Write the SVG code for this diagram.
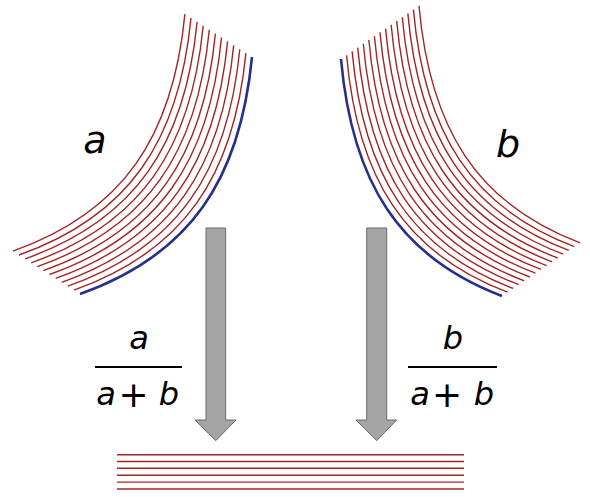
<svg xmlns="http://www.w3.org/2000/svg" xmlns:xlink="http://www.w3.org/1999/xlink" width="590" height="497" viewBox="0 0 590 497">
<style>
.red{fill:none;stroke:#a32424;stroke-width:1.4}
.blue{fill:none;stroke:#26308a;stroke-width:2.6}
.arrow{fill:#a5a5a5;stroke:#6a6a6a;stroke-width:1}
.m{font-family:"DejaVu Sans","Liberation Sans",sans-serif;font-style:italic;fill:#000;text-anchor:middle}
.p{font-family:"DejaVu Sans",sans-serif;fill:#000;text-anchor:middle}
.bar{stroke:#000;stroke-width:2}
</style>
<defs>
<path id="cA" d="M252,57 C240,180 190,255 80,294"/>
<path id="cB" d="M341,59 C352,182 399,257 502,296"/>
</defs>
<rect width="590" height="497" fill="#fff"/>
<g id="fanA">
<use xlink:href="#cA" class="red" transform="translate(-6.1,-3.9)"/>
<use xlink:href="#cA" class="red" transform="translate(-12.2,-7.8)"/>
<use xlink:href="#cA" class="red" transform="translate(-18.3,-11.7)"/>
<use xlink:href="#cA" class="red" transform="translate(-24.4,-15.6)"/>
<use xlink:href="#cA" class="red" transform="translate(-30.5,-19.5)"/>
<use xlink:href="#cA" class="red" transform="translate(-36.6,-23.4)"/>
<use xlink:href="#cA" class="red" transform="translate(-42.7,-27.3)"/>
<use xlink:href="#cA" class="red" transform="translate(-48.8,-31.2)"/>
<use xlink:href="#cA" class="red" transform="translate(-54.9,-35.1)"/>
<use xlink:href="#cA" class="red" transform="translate(-61,-39)"/>
<use xlink:href="#cA" class="red" transform="translate(-67.1,-42.9)"/>
<use xlink:href="#cA" class="blue"/>
</g>
<g id="fanB">
<use xlink:href="#cB" class="red" transform="translate(5.57,-3.8)"/>
<use xlink:href="#cB" class="red" transform="translate(11.14,-7.6)"/>
<use xlink:href="#cB" class="red" transform="translate(16.71,-11.4)"/>
<use xlink:href="#cB" class="red" transform="translate(22.28,-15.2)"/>
<use xlink:href="#cB" class="red" transform="translate(27.85,-19)"/>
<use xlink:href="#cB" class="red" transform="translate(33.42,-22.8)"/>
<use xlink:href="#cB" class="red" transform="translate(38.99,-26.6)"/>
<use xlink:href="#cB" class="red" transform="translate(44.56,-30.4)"/>
<use xlink:href="#cB" class="red" transform="translate(50.13,-34.2)"/>
<use xlink:href="#cB" class="red" transform="translate(55.7,-38)"/>
<use xlink:href="#cB" class="red" transform="translate(61.27,-41.8)"/>
<use xlink:href="#cB" class="red" transform="translate(66.84,-45.6)"/>
<use xlink:href="#cB" class="red" transform="translate(72.41,-49.4)"/>
<use xlink:href="#cB" class="red" transform="translate(77.98,-53.2)"/>
<use xlink:href="#cB" class="blue"/>
</g>
<g id="labelA"><text class="m" x="95" y="153" font-size="38">a</text></g>
<g id="labelB"><text class="m" x="508" y="157" font-size="38">b</text></g>
<g id="connectors">
<path id="arrowA" class="arrow" d="M206,228 H225.7 V420 H236 L215.8,440.7 L195,420 H206 Z"/>
<path id="arrowB" class="arrow" d="M366.7,228 H386.7 V420 H396.7 L376.7,440.7 L356,420 H366.7 Z"/>
</g>
<g id="fracA">
<text class="m" x="139" y="349" font-size="32">a</text>
<line class="bar" x1="95" y1="367" x2="182" y2="367"/>
<text class="m" x="106" y="405" font-size="32">a</text>
<text class="p" x="133.5" y="407" font-size="36">+</text>
<text class="m" x="169" y="405" font-size="32">b</text>
</g>
<g id="fracB">
<text class="m" x="453" y="349" font-size="32">b</text>
<line class="bar" x1="408" y1="367" x2="497" y2="367"/>
<text class="m" x="420" y="405" font-size="32">a</text>
<text class="p" x="447" y="407" font-size="36">+</text>
<text class="m" x="484" y="405" font-size="32">b</text>
</g>
<g id="result">
<line class="red" x1="117" y1="454.7" x2="464" y2="454.7"/>
<line class="red" x1="117" y1="461.5" x2="464" y2="461.5"/>
<line class="red" x1="117" y1="468.3" x2="464" y2="468.3"/>
<line class="red" x1="117" y1="475.2" x2="464" y2="475.2"/>
<line class="red" x1="117" y1="482.1" x2="464" y2="482.1"/>
<line class="red" x1="117" y1="489" x2="464" y2="489"/>
</g>
</svg>
